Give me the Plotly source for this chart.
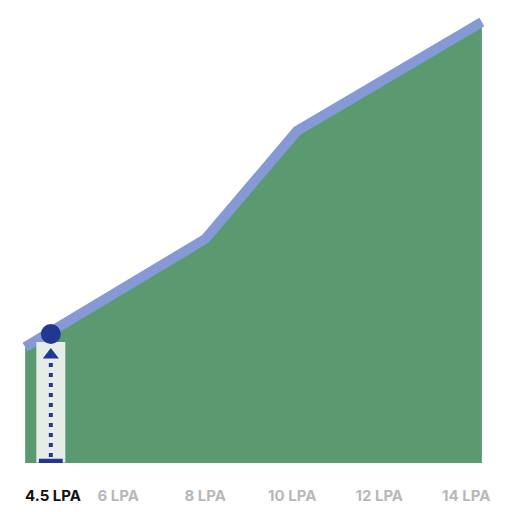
import plotly.graph_objects as go

# salary curve (x in LPA, y in plot units where 0 = baseline)
CURVE_X = [3.86, 8.0, 10.11, 14.36]
CURVE_Y = [116, 224, 332, 441]

TICK_VALUES = [4.5, 6, 8, 10, 12, 14]
TICK_LABELS = ["4.5 LPA", "6 LPA", "8 LPA", "10 LPA", "12 LPA", "14 LPA"]

CURRENT_X = 4.45
CURRENT_Y = 129

GREEN = "#5b9a71"
LINE_BLUE = "#8599d4"
NAVY = "#22378f"
COLUMN = "#e6ece8"
GREY_TEXT = "#b8b8b8"

fig = go.Figure()

# green area under the curve
fig.add_trace(go.Scatter(
    x=CURVE_X, y=CURVE_Y, mode="lines", fill="tozeroy",
    fillcolor=GREEN, line=dict(color=GREEN, width=0),
    hoverinfo="skip", showlegend=False,
))
# thick periwinkle line on top
fig.add_trace(go.Scatter(
    x=CURVE_X, y=CURVE_Y, mode="lines",
    line=dict(color=LINE_BLUE, width=10),
    hoverinfo="skip", showlegend=False,
))

# light column behind the arrow (a very wide line segment)
fig.add_trace(go.Scatter(
    x=[CURRENT_X, CURRENT_X], y=[0.5, CURRENT_Y - 8], mode="lines",
    line=dict(color=COLUMN, width=29),
    hoverinfo="skip", showlegend=False,
))

# dotted arrow up to the current point
fig.add_trace(go.Scatter(
    x=[CURRENT_X, CURRENT_X], y=[6, CURRENT_Y - 27], mode="lines",
    line=dict(color=NAVY, width=4, dash="4px,6px"),
    hoverinfo="skip", showlegend=False,
))
fig.add_trace(go.Scatter(
    x=[CURRENT_X], y=[CURRENT_Y - 21], mode="markers",
    marker=dict(symbol="triangle-up", size=14, color=NAVY),
    hoverinfo="skip", showlegend=False,
))
fig.add_trace(go.Scatter(
    x=[CURRENT_X], y=[2], mode="markers",
    marker=dict(symbol="line-ew", size=17, line=dict(color=NAVY, width=4.5)),
    hoverinfo="skip", showlegend=False,
))
# current salary dot
fig.add_trace(go.Scatter(
    x=[CURRENT_X], y=[CURRENT_Y], mode="markers",
    marker=dict(size=20, color=NAVY),
    hoverinfo="skip", showlegend=False,
))

tick_text = [
    f"<b>{t}</b>" if i == 0
    else f"<span style='color:{GREY_TEXT};font-weight:bold'><b>{t}</b></span>"
    for i, t in enumerate(TICK_LABELS)
]

# page body has an 8px margin, so the figure is a bit smaller and ranges compensate
fig.update_layout(
    width=504, height=504,
    margin=dict(l=0, r=0, t=0, b=49),
    paper_bgcolor="white", plot_bgcolor="white",
    font=dict(family="Inter, Open Sans, sans-serif", size=15, color="#111111"),
)
fig.update_xaxes(
    range=[3.4655, 15.052], tickvals=TICK_VALUES, ticktext=tick_text,
    showgrid=False, zeroline=False, showline=False, ticks="",
    ticklabelstandoff=22,
)
fig.update_yaxes(range=[0, 455], visible=False)

fig.write_html("out.html")
